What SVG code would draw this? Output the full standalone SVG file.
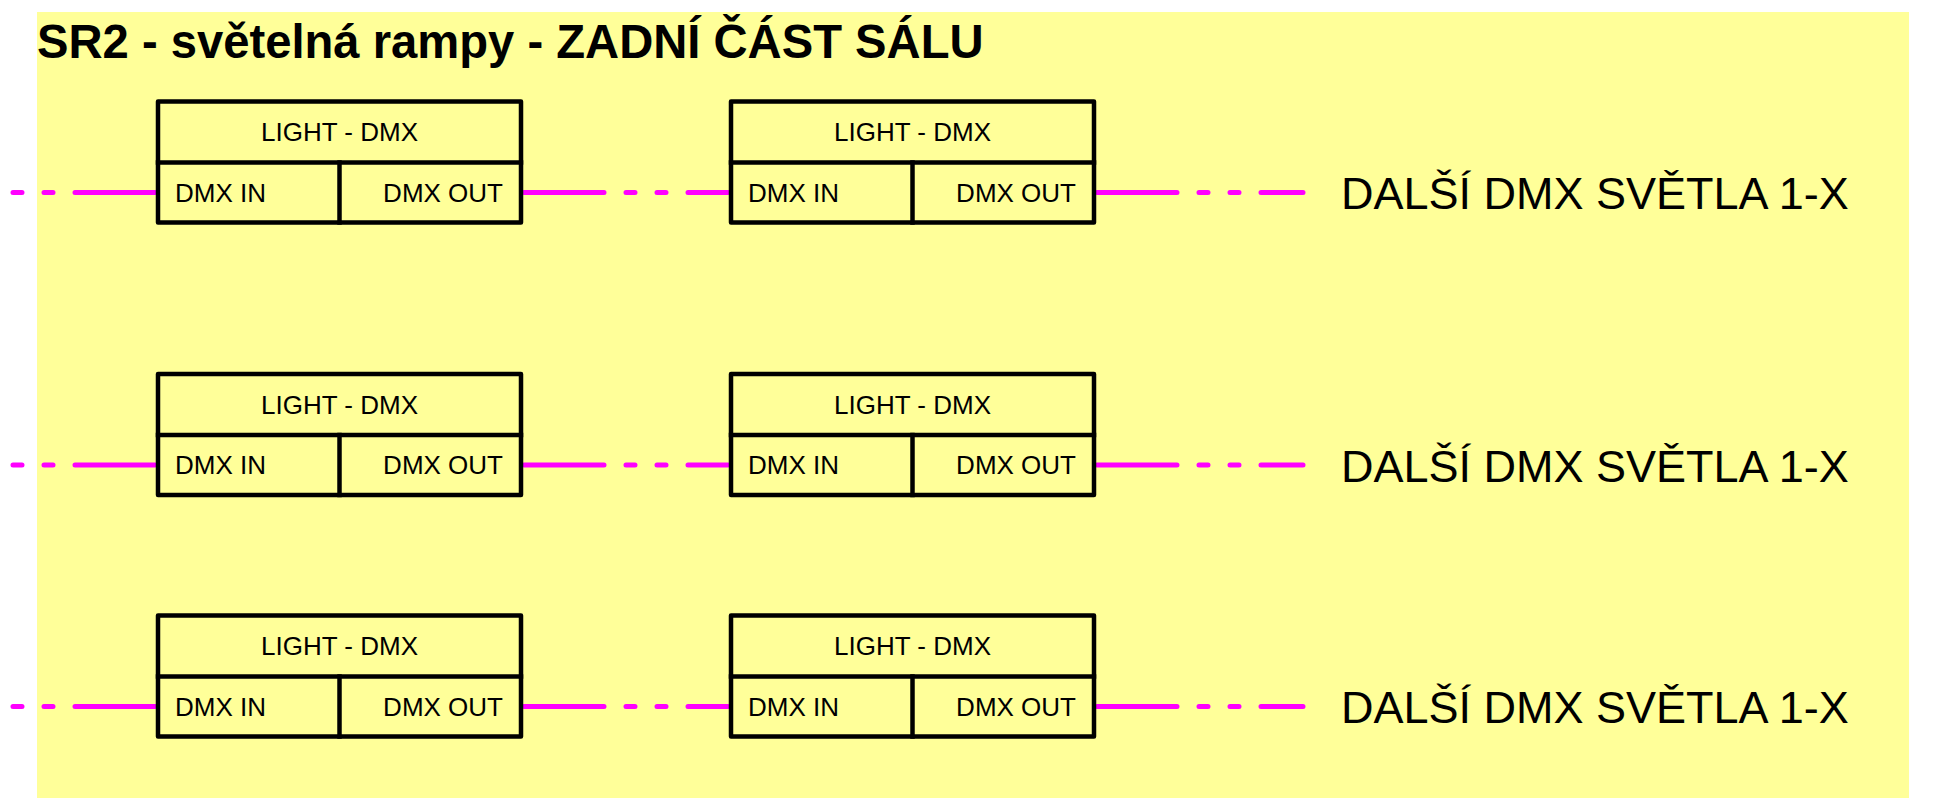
<svg xmlns="http://www.w3.org/2000/svg" width="1940" height="810" viewBox="0 0 1940 810">
  <style>
    .bg { fill: #ffff99; }
    .box { fill: #ffff99; stroke: #000; stroke-width: 4.5; stroke-linejoin: round; }
    .div { stroke: #000; stroke-width: 4.5; stroke-linecap: square; }
    .t { font-family: "Liberation Sans", Arial, sans-serif; fill: #000; }
    .hdr { font-size: 26px; text-anchor: middle; }
    .port { font-size: 26px; }
    .end { text-anchor: end; }
    .title { font-size: 47.2px; font-weight: bold; }
    .more { font-size: 45px; }
    .wire { stroke: #ff00ff; stroke-width: 5; stroke-linecap: round; fill: none; stroke-dasharray: 80 22 9 22 9 22; }
  </style>
  <defs>
    <g id="lightbox">
      <rect class="box" x="0" y="0" width="363" height="121"/>
      <line class="div" x1="0" y1="61" x2="363" y2="61"/>
      <line class="div" x1="181.5" y1="61" x2="181.5" y2="121"/>
      <text class="t hdr" x="181.5" y="39.5">LIGHT - DMX</text>
      <text class="t port" x="17" y="100">DMX IN</text>
      <text class="t port end" x="345" y="100">DMX OUT</text>
    </g>
  </defs>

  <rect class="bg" x="37" y="12" width="1872" height="786"/>
  <text class="t title" x="37" y="58">SR2 - světelná rampy - ZADNÍ ČÁST SÁLU</text>

  <g id="connectors">
    <line class="wire" x1="155" y1="192.5" x2="13" y2="192.5"/>
    <line class="wire" x1="524" y1="192.5" x2="728" y2="192.5"/>
    <line class="wire" x1="1097" y1="192.5" x2="1303" y2="192.5"/>

    <line class="wire" x1="155" y1="465" x2="13" y2="465"/>
    <line class="wire" x1="524" y1="465" x2="728" y2="465"/>
    <line class="wire" x1="1097" y1="465" x2="1303" y2="465"/>

    <line class="wire" x1="155" y1="706.5" x2="13" y2="706.5"/>
    <line class="wire" x1="524" y1="706.5" x2="728" y2="706.5"/>
    <line class="wire" x1="1097" y1="706.5" x2="1303" y2="706.5"/>
  </g>

  <g id="light-r1-a"><use href="#lightbox" x="158" y="101.5"/></g>
  <g id="light-r1-b"><use href="#lightbox" x="731" y="101.5"/></g>
  <g id="light-r2-a"><use href="#lightbox" x="158" y="374"/></g>
  <g id="light-r2-b"><use href="#lightbox" x="731" y="374"/></g>
  <g id="light-r3-a"><use href="#lightbox" x="158" y="615.5"/></g>
  <g id="light-r3-b"><use href="#lightbox" x="731" y="615.5"/></g>

  <g id="more-r1"><text class="t more" x="1341" y="209">DALŠÍ DMX SVĚTLA 1-X</text></g>
  <g id="more-r2"><text class="t more" x="1341" y="481.5">DALŠÍ DMX SVĚTLA 1-X</text></g>
  <g id="more-r3"><text class="t more" x="1341" y="723">DALŠÍ DMX SVĚTLA 1-X</text></g>
</svg>
